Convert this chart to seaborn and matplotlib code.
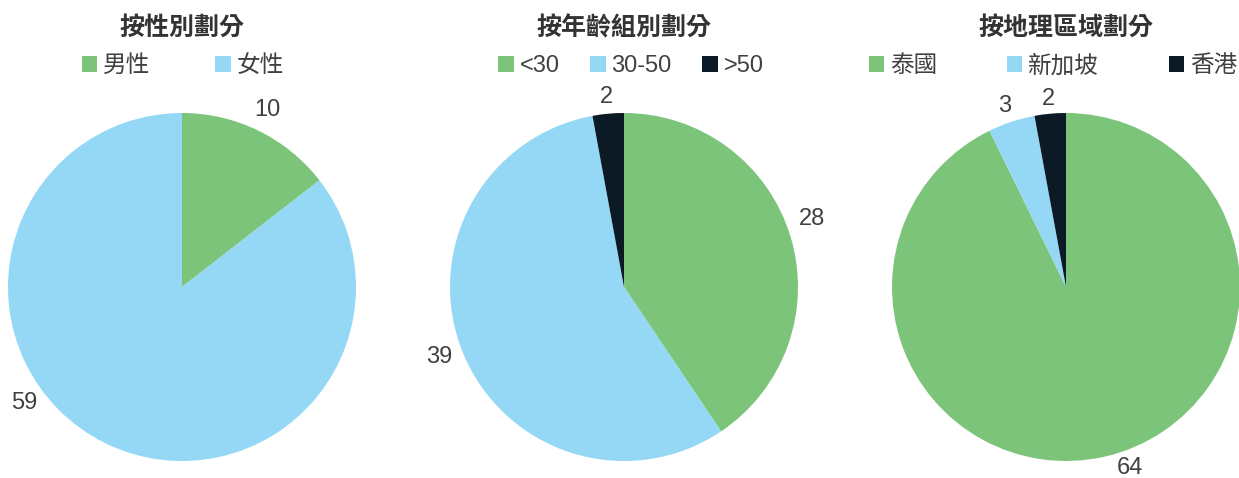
import numpy as np
import seaborn as sns
import matplotlib.pyplot as plt
from matplotlib.patches import Patch

# datos
titulos = ['按性別劃分', '按年齡組別劃分', '按地理區域劃分']
cat_genero = ['男性', '女性']
val_genero = [10, 59]
cat_edad = ['<30', '30-50', '>50']
val_edad = [28, 39, 2]
cat_region = ['泰國', '新加坡', '香港']
val_region = [64, 3, 2]

colores = ['#7BC47A', '#95D8F6', '#0C1A26']

sns.set_style('white')
plt.rcParams['font.family'] = ['Liberation Sans', 'Noto Sans CJK TC', 'DejaVu Sans']

W, H = 1239, 478
fig = plt.figure(figsize=(W / 100, H / 100), dpi=100)

centros_x = [182, 624, 1066]
leyenda_x = [183, 631, 1053]
cy = 287
R = 174

# posiciones de etiquetas (en radios, relativas al centro)
pos_etiquetas = [
    [(0.49, 1.02), (-0.905, -0.665)],
    [(1.083, 0.39), (-1.06, -0.40), (-0.10, 1.09)],
    [(0.368, -1.04), (-0.35, 1.04), (-0.10, 1.08)],
]
espaciado = [2.75, 1.3, 2.95]

grupos = [(cat_genero, val_genero), (cat_edad, val_edad), (cat_region, val_region)]

for i, (cats, vals) in enumerate(grupos):
    cx = centros_x[i]
    ax = fig.add_axes([(cx - R) / W, (H - cy - R) / H, 2 * R / W, 2 * R / H])
    cols = colores[:len(vals)]
    ax.pie(vals, colors=cols, startangle=90, counterclock=False, radius=1,
           wedgeprops=dict(linewidth=0))
    ax.set_xlim(-1, 1)
    ax.set_ylim(-1, 1)
    ax.set_aspect('equal')
    ax.axis('off')
    for v, (px, py) in zip(vals, pos_etiquetas[i]):
        ax.text(px, py, str(v), ha='center', va='center', fontsize=17,
                color='#404040', clip_on=False)

    fig.text(cx / W, 1 - 28 / H, titulos[i], ha='center', va='center',
             fontsize=18, fontweight='bold', color='#333333',
             family=['Noto Sans CJK TC', 'DejaVu Sans'])

    handles = [Patch(facecolor=c, edgecolor='none') for c in cols]
    leg = fig.legend(handles, cats, loc='center', ncol=len(cats),
                     bbox_to_anchor=(leyenda_x[i] / W, 1 - 66 / H), frameon=False,
                     handlelength=0.65, handleheight=0.65,
                     handletextpad=0.25, columnspacing=espaciado[i],
                     borderpad=0, labelcolor='#404040',
                     prop={'family': ['Liberation Sans', 'Noto Sans CJK TC'], 'size': 17})

fig.savefig('out.png', dpi=100)
